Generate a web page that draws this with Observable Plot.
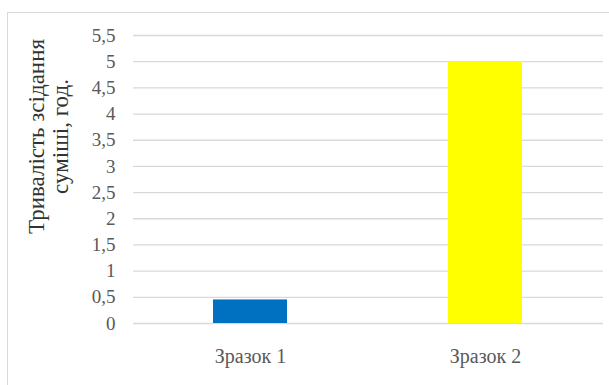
<!DOCTYPE html>
<html>
<head>
<meta charset="utf-8">
<script src="https://cdn.jsdelivr.net/npm/d3@7"></script>
<script src="https://cdn.jsdelivr.net/npm/@observablehq/plot@0.6"></script>
<style>
  html, body { margin: 0; padding: 0; background: #fff; overflow: hidden; }
  #wrap { position: relative; width: 609px; height: 385px; }
  #frame { position: absolute; left: 7px; top: 12px; width: 700px; height: 500px; border: 1px solid #d9d9d9; box-sizing: border-box; }
  #chart { position: absolute; left: 0; top: 0; }
</style>
</head>
<body>
<div id="wrap"><div id="frame"></div><div id="chart"></div></div>
<script>
const categories = ["Зразок 1", "Зразок 2"];
const values = [0.45, 5];
const barColors = ["#0070C0", "#FFFF00"];
const yTicks = [0, 0.5, 1, 1.5, 2, 2.5, 3, 3.5, 4, 4.5, 5, 5.5];
const yTitle = "Тривалість зсідання\nсуміші, год.";

const data = categories.map((c, i) => ({cat: c, value: values[i], color: barColors[i]}));
const fmt = v => String(v).replace(".", ",");
const serif = "'Liberation Serif', 'Times New Roman', serif";

const chart = Plot.plot({
  width: 609,
  height: 385,
  marginTop: 35,
  marginBottom: 62,
  marginLeft: 133,
  marginRight: 6,
  style: {background: "transparent"},
  x: {domain: categories, paddingInner: 0.685, paddingOuter: 0.3425, align: 0.5},
  y: {domain: [0, 5.5]},
  marks: [
    Plot.ruleY(yTicks, {stroke: "#d9d9d9", strokeWidth: 1.3}),
    Plot.barY(data, {x: "cat", y: "value", fill: "color"}),
    Plot.axisY({ticks: yTicks, tickFormat: fmt, tickSize: 0, tickPadding: 18, label: null, fontSize: 19, fontFamily: serif, fill: "#595959"}),
    Plot.axisX({tickSize: 0, tickPadding: 25, label: null, fontSize: 20, fontFamily: serif, fill: "#595959"}),
    Plot.text([yTitle], {frameAnchor: "left", rotate: -90, dx: -85, dy: -43, fontSize: 23, fontFamily: serif, lineHeight: 1.05, textAnchor: "middle", lineAnchor: "middle", fill: "#333333"})
  ]
});
document.getElementById("chart").appendChild(chart);
</script>
</body>
</html>
